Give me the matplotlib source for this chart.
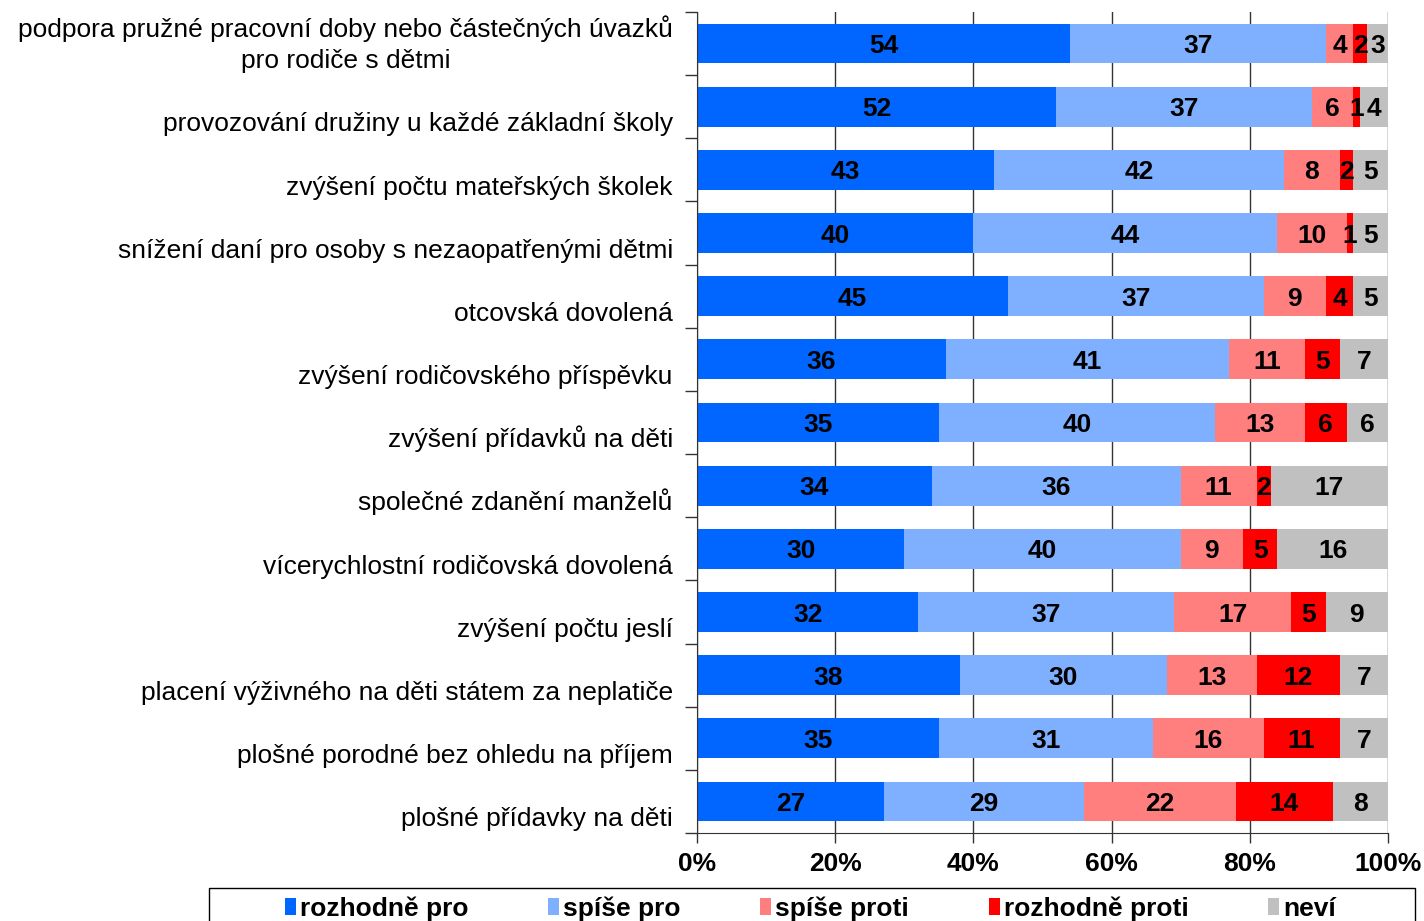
import numpy as np
import matplotlib.pyplot as plt
from matplotlib.patches import Patch, Rectangle
import matplotlib.transforms as mtransforms

plt.rcParams['font.family'] = ['Liberation Sans', 'DejaVu Sans']

LABEL_SIZE = 19
NUM_SIZE = 19

categories = [
    'podpora pružné pracovní doby nebo částečných úvazků\npro rodiče s dětmi',
    'provozování družiny u každé základní školy',
    'zvýšení počtu mateřských školek',
    'snížení daní pro osoby s nezaopatřenými dětmi',
    'otcovská dovolená',
    'zvýšení rodičovského příspěvku',
    'zvýšení přídavků na děti',
    'společné zdanění manželů',
    'vícerychlostní rodičovská dovolená',
    'zvýšení počtu jeslí',
    'placení výživného na děti státem za neplatiče',
    'plošné porodné bez ohledu na příjem',
    'plošné přídavky na děti',
]

rozhodne_pro = [54, 52, 43, 40, 45, 36, 35, 34, 30, 32, 38, 35, 27]
spise_pro = [37, 37, 42, 44, 37, 41, 40, 36, 40, 37, 30, 31, 29]
spise_proti = [4, 6, 8, 10, 9, 11, 13, 11, 9, 17, 13, 16, 22]
rozhodne_proti = [2, 1, 2, 1, 4, 5, 6, 2, 5, 5, 12, 11, 14]
nevi = [3, 4, 5, 5, 5, 7, 6, 17, 16, 9, 7, 7, 8]

series_names = ['rozhodně pro', 'spíše pro', 'spíše proti', 'rozhodně proti', 'neví']
colors = ['#0066FF', '#7FAFFF', '#FF7F7F', '#FF0000', '#C0C0C0']

data = [rozhodne_pro, spise_pro, spise_proti, rozhodne_proti, nevi]

fig = plt.figure(figsize=(14.24, 9.21), dpi=100)
ax = fig.add_axes([0.4895, 0.0955, 0.4852, 0.8915])

y = np.arange(len(categories))
left = np.zeros(len(categories))
for vals, col in zip(data, colors):
    vals = np.array(vals, dtype=float)
    ax.barh(y, vals, left=left, height=0.63, color=col, zorder=2)
    for yi, l, v in zip(y, left, vals):
        ax.text(l + v / 2, yi + 0.04, '%d' % v, ha='center', va='center',
                fontsize=NUM_SIZE, fontweight='bold', color='black', zorder=3)
    left += vals

ax.set_xlim(0, 100)
ax.set_ylim(len(categories) - 0.5, -0.5)
ax.set_xticks([0, 20, 40, 60, 80, 100])
ax.set_xticklabels(['0%', '20%', '40%', '60%', '80%', '100%'],
                   fontsize=LABEL_SIZE, fontweight='bold')
ax.tick_params(axis='x', length=7, width=1, color='#333333', pad=7)
ax.xaxis.grid(True, color='#333333', linewidth=1, zorder=0)
ax.set_axisbelow(True)

# y ticks at category boundaries, labels drawn separately
ax.set_yticks(np.arange(len(categories) + 1) - 0.5)
ax.set_yticklabels([])
ax.tick_params(axis='y', length=9, width=1, color='#333333')

trans = mtransforms.blended_transform_factory(ax.transAxes, ax.transData)
for yi, cat in zip(y, categories):
    ax.text(-0.035, yi + 0.47, cat, transform=trans, ha='right', va='bottom',
            multialignment='center', fontsize=LABEL_SIZE, linespacing=1.38)

for s in ['top', 'right']:
    ax.spines[s].set_visible(False)
ax.spines['left'].set_color('#333333')
ax.spines['bottom'].set_color('#333333')

# legend box (cut off at the bottom like the original)
fig.patches.append(Rectangle((0.1468, -0.01), 0.847, 0.0458, transform=fig.transFigure,
                             facecolor='white', edgecolor='black', linewidth=1))
handles = [Patch(facecolor=c, edgecolor='none') for c in colors]
leg = fig.legend(handles, series_names, loc='center',
                 bbox_to_anchor=(0.569, 0.0135),
                 ncol=5, prop={'weight': 'bold', 'size': LABEL_SIZE},
                 handlelength=0.42, handleheight=0.62, handletextpad=0.15,
                 columnspacing=3.02, frameon=False, borderaxespad=0, borderpad=0)

plt.savefig('out.png', dpi=100)
